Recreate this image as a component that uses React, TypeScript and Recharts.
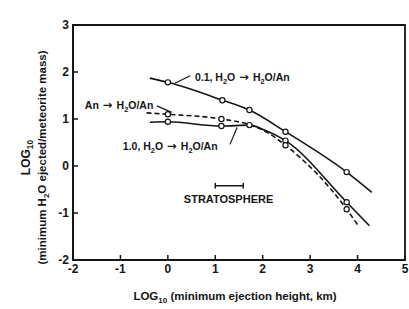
import React from 'react';
import { LineChart, Line, XAxis, YAxis, ReferenceArea, ReferenceLine, ReferenceDot } from 'recharts';

// LOG10 minimum ejection height (km) vs LOG10 minimum H2O ejected / meteorite mass
const xTicks = [-2, -1, 0, 1, 2, 3, 4, 5];
const yTicks = [-2, -1, 0, 1, 2, 3];

// 0.1, H2O -> H2O/An (upper solid)
const upperX = [-0.38, 0, 1.15, 1.72, 2.48, 3.77, 4.3];
const upperY = [1.87, 1.78, 1.4, 1.19, 0.73, -0.13, -0.56];
const upperMark = [false, true, true, true, true, true, false];

// 1.0, H2O -> H2O/An (lower solid)
const lowerX = [-0.38, 0, 1.13, 1.72, 2.05, 2.48, 3.77, 4.25];
const lowerY = [0.93, 0.94, 0.85, 0.87, 0.76, 0.54, -0.77, -1.27];
const lowerMark = [false, true, true, true, false, true, true, false];

// An -> H2O/An (dashed)
const dashX = [-0.45, 0, 1.13, 1.72, 2.05, 2.48, 3.77, 4.0];
const dashY = [1.13, 1.1, 1.0, 0.88, 0.74, 0.44, -0.92, -1.25];
const dashMark = [false, true, true, false, false, true, true, false];

type Seg = { t: string; sub?: boolean; arrow?: boolean };
const ARROW: Seg = { t: ' \u2192 ', arrow: true };
const upperLabel: Seg[] = [{ t: '0.1,  H' }, { t: '2', sub: true }, { t: 'O' }, ARROW, { t: 'H' }, { t: '2', sub: true }, { t: 'O/An' }];
const lowerLabel: Seg[] = [{ t: '1.0,  H' }, { t: '2', sub: true }, { t: 'O' }, ARROW, { t: 'H' }, { t: '2', sub: true }, { t: 'O/An' }];
const dashLabel: Seg[] = [{ t: 'An' }, ARROW, { t: 'H' }, { t: '2', sub: true }, { t: 'O/An' }];
const stratLabel: Seg[] = [{ t: 'STRATOSPHERE' }];
const xTitle: Seg[] = [{ t: 'LOG' }, { t: '10', sub: true }, { t: ' (minimum ejection height, km)' }];
const yTitle1: Seg[] = [{ t: 'LOG' }, { t: '10', sub: true }];
const yTitle2: Seg[] = [{ t: '(minimum H' }, { t: '2', sub: true }, { t: 'O ejected/meteorite mass)' }];

const toRows = (xs: number[], ys: number[], ms: boolean[]) => xs.map((x, i) => ({ x, y: ys[i], m: ms[i] }));

const INK = '#151515';
const FONT = '"Liberation Sans", Arial, sans-serif';

const segs = (list: Seg[], size: number) => {
  let prevSub = false;
  return list.map((s, i) => {
    const dy = s.sub ? 3 : prevSub ? -3 : 0;
    prevSub = !!s.sub;
    return (
      <tspan
        key={i}
        dy={dy}
        fontSize={s.sub ? size * 0.7 : s.arrow ? size * 1.1 : size}
        fontFamily={s.arrow ? '"DejaVu Sans", sans-serif' : undefined}
      >
        {s.t}
      </tspan>
    );
  });
};

const dot = (props: any) => {
  const { cx, cy, payload, index } = props;
  if (!payload || !payload.m) return <g key={index} />;
  return <circle key={index} cx={cx} cy={cy} r={2.6} fill="#fff" stroke={INK} strokeWidth={1.2} />;
};

const XTick = (props: any) => {
  const { x, y, payload } = props;
  return (
    <g>
      <line x1={x} x2={x} y1={y} y2={y - 5} stroke={INK} strokeWidth={1.5} />
      <text x={x} y={y + 13} textAnchor="middle" fontSize={12} fontWeight="bold" fill={INK} fontFamily={FONT}>
        {String(payload.value)}
      </text>
    </g>
  );
};

const YTick = (props: any) => {
  const { x, y, payload } = props;
  return (
    <g>
      <line x1={x} x2={x + 5} y1={y} y2={y} stroke={INK} strokeWidth={1.5} />
      <text x={x - 4} y={y + 4} textAnchor="end" fontSize={12} fontWeight="bold" fill={INK} fontFamily={FONT}>
        {String(payload.value)}
      </text>
    </g>
  );
};

const textLabel = (list: Seg[], size: number, anchor: 'start' | 'middle' = 'start') => (props: any) => {
  const vb = props.viewBox || {};
  return (
    <text x={vb.x} y={vb.y + 4} textAnchor={anchor} fill={INK} fontWeight="bold" fontFamily={FONT}>
      {segs(list, size)}
    </text>
  );
};

const XTitle = (props: any) => {
  const vb = props.viewBox;
  return (
    <text x={vb.x + vb.width / 2 - 4} y={vb.y + 40} textAnchor="middle" fill={INK} fontWeight="bold" fontFamily={FONT}>
      {segs(xTitle, 11.5)}
    </text>
  );
};

const YTitle = (props: any) => {
  const vb = props.viewBox;
  const cy = vb.y + vb.height / 2 + 15;
  return (
    <g fill={INK} fontFamily={FONT} fontWeight="bold">
      <text x={30} y={cy} transform={`rotate(-90 30 ${cy})`} textAnchor="middle">
        {segs(yTitle1, 12)}
      </text>
      <text x={46} y={cy} transform={`rotate(-90 46 ${cy})`} textAnchor="middle">
        {segs(yTitle2, 11.5)}
      </text>
    </g>
  );
};

const seg = (a: [number, number], b: [number, number]) => [
  { x: a[0], y: a[1] },
  { x: b[0], y: b[1] },
];

export default function App() {
  return (
    <div style={{ position: 'absolute', left: 0, top: 0, background: '#fff' }}>
      <LineChart width={409} height={309} margin={{ top: 25, right: 4, bottom: 0, left: 0 }} style={{ fontFamily: FONT }}>
        <XAxis
          type="number"
          dataKey="x"
          domain={[-2, 5]}
          ticks={xTicks}
          allowDataOverflow
          height={49}
          tickSize={0}
          tickMargin={0}
          tickLine={false}
          tick={<XTick />}
          axisLine={{ stroke: INK, strokeWidth: 2 }}
          label={{ content: <XTitle /> }}
        />
        <YAxis
          type="number"
          dataKey="y"
          domain={[-2, 3]}
          ticks={yTicks}
          allowDataOverflow
          width={73}
          tickSize={0}
          tickMargin={0}
          tickLine={false}
          tick={<YTick />}
          axisLine={{ stroke: INK, strokeWidth: 2 }}
          label={{ content: <YTitle /> }}
        />
        <ReferenceArea x1={-2} x2={5} y1={-2} y2={3} fill="none" stroke={INK} strokeWidth={1.8} />

        <Line data={toRows(upperX, upperY, upperMark)} dataKey="y" type="monotone" stroke={INK} strokeWidth={1.6} dot={dot} isAnimationActive={false} />
        <Line data={toRows(lowerX, lowerY, lowerMark)} dataKey="y" type="monotone" stroke={INK} strokeWidth={1.6} dot={dot} isAnimationActive={false} />
        <Line data={toRows(dashX, dashY, dashMark)} dataKey="y" type="monotone" stroke={INK} strokeWidth={1.6} strokeDasharray="5 3" dot={dot} isAnimationActive={false} />

        {/* leader lines */}
        <ReferenceLine segment={seg([0.15, 1.76], [0.47, 1.92])} stroke={INK} strokeWidth={1.2} />
        <ReferenceLine segment={seg([-0.23, 1.28], [0.08, 1.14])} stroke={INK} strokeWidth={1.2} />
        <ReferenceLine segment={seg([1.31, 0.46], [1.46, 0.82])} stroke={INK} strokeWidth={1.2} />

        {/* stratosphere bar */}
        <ReferenceLine segment={seg([1.0, -0.42], [1.59, -0.42])} stroke={INK} strokeWidth={1.5} />
        <ReferenceLine segment={seg([1.0, -0.36], [1.0, -0.48])} stroke={INK} strokeWidth={1.5} />
        <ReferenceLine segment={seg([1.59, -0.36], [1.59, -0.48])} stroke={INK} strokeWidth={1.5} />

        <ReferenceDot x={0.57} y={1.89} r={0} stroke="none" label={{ content: textLabel(upperLabel, 10.5) }} />
        <ReferenceDot x={-1.75} y={1.3} r={0} stroke="none" label={{ content: textLabel(dashLabel, 10.5) }} />
        <ReferenceDot x={-0.95} y={0.42} r={0} stroke="none" label={{ content: textLabel(lowerLabel, 10.5) }} />
        <ReferenceDot x={1.28} y={-0.7} r={0} stroke="none" label={{ content: textLabel(stratLabel, 11, 'middle') }} />
      </LineChart>
    </div>
  );
}
